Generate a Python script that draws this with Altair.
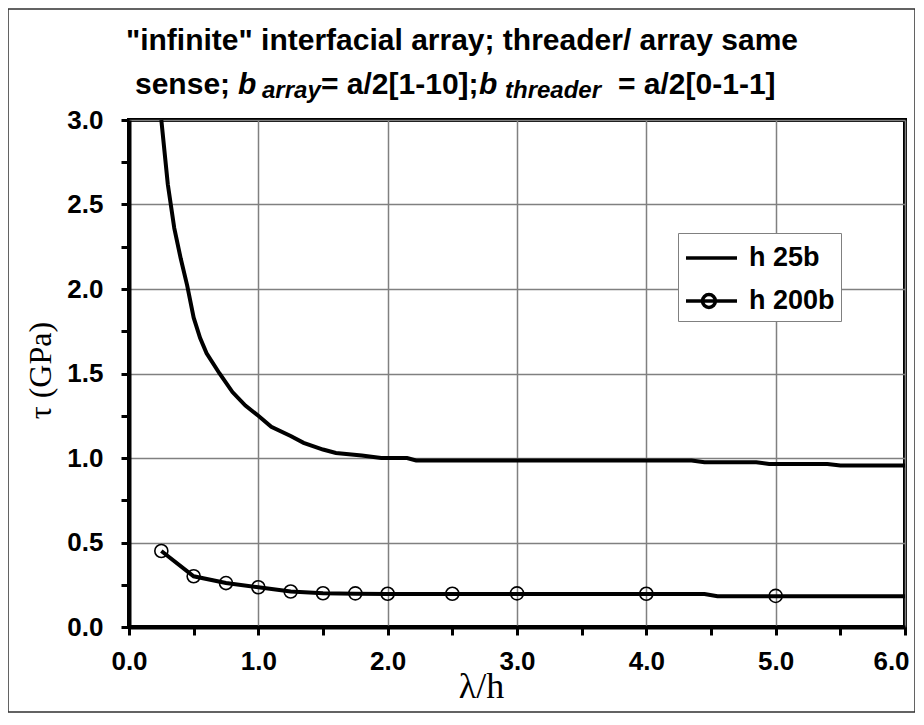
import altair as alt
import pandas as pd

# ---------------- data ----------------
series = ["h 25b", "h 200b"]

x_25 = [0.25, 0.30, 0.35, 0.40, 0.45, 0.50, 0.55, 0.60, 0.70, 0.80, 0.90, 1.00, 1.10, 1.25,
        1.35, 1.50, 1.60, 1.80, 1.95, 2.15, 2.22, 4.35, 4.45, 4.85, 4.95, 5.40, 5.50, 6.00]
y_25 = [3.00, 2.62, 2.36, 2.18, 2.02, 1.83, 1.71, 1.62, 1.50, 1.39, 1.31, 1.25, 1.185, 1.13,
        1.09, 1.05, 1.03, 1.015, 1.00, 1.00, 0.985, 0.985, 0.975, 0.975, 0.965, 0.965, 0.955, 0.955]

x_200_line = [0.25, 0.50, 0.75, 1.00, 1.25, 1.50, 1.75, 2.00, 2.50, 3.00, 4.00, 4.45, 4.55, 5.00, 6.00]
y_200_line = [0.45, 0.30, 0.26, 0.235, 0.21, 0.20, 0.197, 0.195, 0.195, 0.195, 0.195, 0.195, 0.182, 0.182, 0.182]

x_200_mark = [0.25, 0.50, 0.75, 1.00, 1.25, 1.50, 1.75, 2.00, 2.50, 3.00, 4.00, 5.00]
y_200_mark = [0.45, 0.30, 0.26, 0.235, 0.21, 0.20, 0.199, 0.197, 0.197, 0.199, 0.197, 0.184]

x_tick_values = [0, 0.5, 1, 1.5, 2, 2.5, 3, 3.5, 4, 4.5, 5, 5.5, 6]
y_tick_values = [0, 0.25, 0.5, 0.75, 1, 1.25, 1.5, 1.75, 2, 2.25, 2.5, 2.75, 3]

title_line1 = '"infinite" interfacial array; threader/ array same'
title_parts = ["sense;", "b", "array", "= a/2[1-10];", "b", "threader", "= a/2[0-1-1]"]

x_title = "λ/h"
y_title = "τ (GPa)"

# ---------------- tables ----------------
lines_df = pd.concat([
    pd.DataFrame({"x": x_25, "y": y_25, "series": series[0]}),
    pd.DataFrame({"x": x_200_line, "y": y_200_line, "series": series[1]}),
])
marks_df = pd.DataFrame({"x": x_200_mark, "y": y_200_mark, "series": series[1]})

SANS = "Liberation Sans"
SERIF = "Liberation Serif"

X = alt.X(
    "x:Q",
    scale=alt.Scale(domain=[0, 6], nice=False, zero=False),
    axis=alt.Axis(
        values=x_tick_values,
        labelExpr="datum.value % 1 === 0 ? format(datum.value, '.1f') : ''",
        labelFont=SANS, labelFontSize=26, labelFontWeight="bold", labelColor="black",
        labelPadding=13, labelFlush=False,
        labelOffset={"condition": {"test": "datum.value >= 6", "value": -14}, "value": 0},
        tickColor="black", tickWidth=3, tickSize=8,
        domainColor="black", domainWidth=4,
        grid=True, gridColor="#808080", gridWidth=1.5,
        gridOpacity={"condition": {"test": "datum.value % 1 !== 0", "value": 0}, "value": 1},
        title=x_title, titleFont=SERIF, titleFontSize=36, titleFontWeight="normal",
        titleColor="black", titleX=352, titleY=59, titleAlign="center", titleBaseline="middle",
    ),
)
Y = alt.Y(
    "y:Q",
    scale=alt.Scale(domain=[0, 3], nice=False, zero=False),
    axis=alt.Axis(
        values=y_tick_values,
        labelExpr="datum.value % 0.5 === 0 ? format(datum.value, '.1f') : ''",
        labelFont=SANS, labelFontSize=26, labelFontWeight="bold", labelColor="black",
        labelPadding=18, labelFlush=False,
        tickColor="black", tickWidth=3, tickSize=8,
        domainColor="black", domainWidth=4,
        grid=True, gridColor="#808080", gridWidth=1.5,
        gridOpacity={"condition": {"test": "datum.value % 0.5 !== 0", "value": 0}, "value": 1},
        title=y_title, titleFont=SERIF, titleFontSize=32, titleFontWeight="normal",
        titleColor="black", titleX=-89, titleY=250, titleAngle=270,
        titleAlign="center", titleBaseline="middle",
    ),
)

frame = alt.Chart(pd.DataFrame({"k": [0]})).mark_rect(
    fill="transparent", stroke="#303030", strokeWidth=1.5
).encode(x=alt.value(-121), x2=alt.value(786), y=alt.value(-111), y2=alt.value(592))

lines = alt.Chart(lines_df).mark_line(color="black", strokeWidth=4).encode(
    x=X, y=Y, detail="series:N"
)

markers = alt.Chart(marks_df).mark_point(
    shape="circle", filled=False, color="black", size=170, strokeWidth=1.6, opacity=1
).encode(x=X, y=Y)

path_line = "M-1,0H2"
path_line_circle = "M-1,0H2M-0.03,0A0.38,0.38,0,1,1,0.73,0A0.38,0.38,0,1,1,-0.03,0"

legend_layer = alt.Chart(marks_df).transform_filter("false").mark_point(
    filled=False, color="black", strokeWidth=3.5, opacity=1
).encode(
    x=X, y=Y,
    shape=alt.Shape(
        "series:N",
        scale=alt.Scale(domain=series, range=[path_line, path_line_circle]),
        legend=alt.Legend(
            title=None, orient="none", legendX=549, legendY=113,
            fillColor="white", strokeColor="#808080", padding=6,
            labelFont=SANS, labelFontSize=27, labelFontWeight="bold", labelColor="black",
            labelOffset=27, symbolSize=1156, symbolStrokeWidth=3.5,
            symbolStrokeColor="black", symbolFillColor="transparent",
            rowPadding=11, labelLimit=300,
        ),
    ),
)


def text_piece(txt, px, py, size, italic=False):
    return alt.Chart(pd.DataFrame({"t": [txt]})).mark_text(
        align="left", baseline="alphabetic", font=SANS, fontSize=size,
        fontWeight="bold", fontStyle="italic" if italic else "normal", color="black"
    ).encode(x=alt.value(px), y=alt.value(py), text="t:N")


title1 = alt.Chart(pd.DataFrame({"t": [title_line1]})).mark_text(
    align="center", baseline="alphabetic", font=SANS, fontSize=30,
    fontWeight="bold", color="black"
).encode(x=alt.value(333), y=alt.value(-70), text="t:N")

part_x = [6, 109, 133, 192, 350, 376, 489]
part_y = [-26, -26, -22, -26, -26, -22, -26]
part_size = [30, 30, 24, 30, 30, 24, 30]
part_italic = [False, True, True, False, True, True, False]
texts = [text_piece(t, px, py, s, it)
         for t, px, py, s, it in zip(title_parts, part_x, part_y, part_size, part_italic)]

chart = alt.layer(frame, lines, markers, legend_layer, title1, *texts).properties(
    width=776, height=507,
    padding={"left": 121, "top": 112, "right": 10, "bottom": 86},
    autosize=alt.AutoSizeParams(type="none"),
    background="white",
).configure_view(stroke="black", strokeWidth=4)

chart.save("out.html", embed_options={"renderer": "svg", "actions": False})
